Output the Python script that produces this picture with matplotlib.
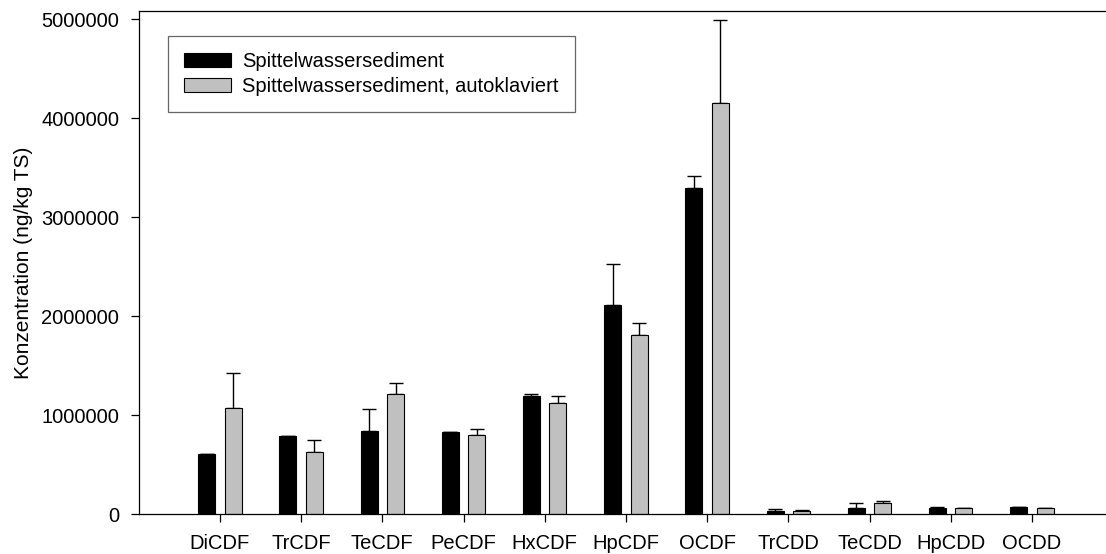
import numpy as np
import matplotlib
matplotlib.use('Agg')
import matplotlib.pyplot as plt

plt.rcParams['font.family'] = ['Liberation Sans', 'DejaVu Sans']

# Kongenerengruppen
categories = ['DiCDF', 'TrCDF', 'TeCDF', 'PeCDF', 'HxCDF', 'HpCDF', 'OCDF',
              'TrCDD', 'TeCDD', 'HpCDD', 'OCDD']
# Spittelwassersediment (Mittelwert, +Fehler)
sed = [610000, 790000, 840000, 831000, 1195000, 2114000, 3296000,
       33000, 67000, 65000, 70000]
sed_err = [0, 0, 227000, 0, 17000, 416000, 124000,
           17000, 43000, 5000, 3000]
# Spittelwassersediment, autoklaviert
auto = [1070000, 626000, 1218000, 800000, 1127000, 1810000, 4157000,
        36000, 117000, 65000, 65000]
auto_err = [360000, 121000, 112000, 65000, 71000, 120000, 833000,
            9000, 13000, 3000, 3000]

x = np.arange(len(categories))
w = 0.21
off = 0.163
fs = 14.5

fig = plt.figure(figsize=(11.06, 5.54), dpi=100)
ax = fig.add_axes([0.1254, 0.0717, 0.8737, 0.9093])

ax.bar(x - off, sed, w, color='black', edgecolor='black', linewidth=0.8,
       label='Spittelwassersediment', zorder=2)
ax.bar(x + off, auto, w, color='#c0c0c0', edgecolor='black', linewidth=0.8,
       label='Spittelwassersediment, autoklaviert', zorder=2)
# nur obere Fehlerbalken
ax.errorbar(x - off, sed, yerr=[np.zeros(len(sed)), sed_err], fmt='none',
            ecolor='black', elinewidth=1.0, capsize=5, capthick=1.0, zorder=1)
ax.errorbar(x + off, auto, yerr=[np.zeros(len(auto)), auto_err], fmt='none',
            ecolor='black', elinewidth=1.0, capsize=5, capthick=1.0, zorder=1)

ax.set_xlim(-1, 10.9)
ax.set_ylim(0, 5090000)
ax.set_xticks(x)
ax.set_xticklabels(categories, fontsize=fs)
ax.set_yticks([0, 1000000, 2000000, 3000000, 4000000, 5000000])
ax.set_yticklabels(['0', '1000000', '2000000', '3000000', '4000000', '5000000'],
                   fontsize=fs)
ax.tick_params(axis='y', direction='out', length=6, width=0.9, pad=8)
ax.tick_params(axis='x', direction='out', length=6, width=0.9, pad=8)
ax.set_ylabel('Konzentration (ng/kg TS)', fontsize=15)
ax.yaxis.set_label_coords(-0.109, 0.5)

for s in ['left', 'bottom', 'top']:
    ax.spines[s].set_linewidth(0.9)
ax.spines['right'].set_visible(False)

leg = ax.legend(loc='upper left', bbox_to_anchor=(0.0303, 0.949), borderaxespad=0,
                fontsize=fs, frameon=True, fancybox=False, shadow=False,
                handlelength=2.34, handleheight=0.7, handletextpad=0.55,
                labelspacing=0.27, borderpad=0.8)
leg.get_frame().set_edgecolor('#404040')
leg.get_frame().set_linewidth(0.9)

fig.savefig('out.png', dpi=100)
